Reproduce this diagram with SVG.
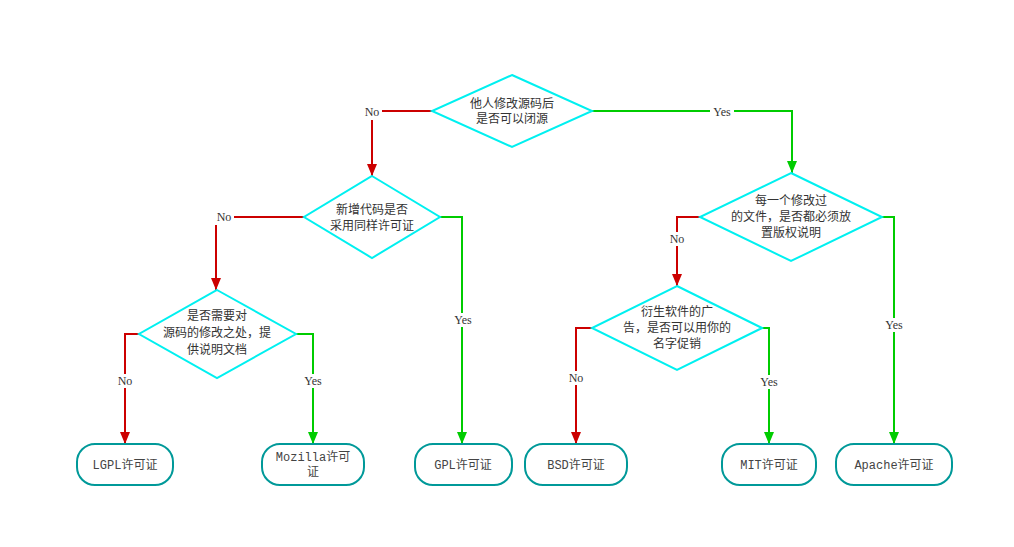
<svg xmlns="http://www.w3.org/2000/svg" width="1014" height="547" viewBox="0 0 1014 547">
<style>
.d{fill:#fff;stroke:#00f0f0;stroke-width:2}
.t{fill:#fff;stroke:#009999;stroke-width:2}
.dt{font-family:"Noto Sans CJK SC",sans-serif;font-size:12px;fill:#333;text-anchor:middle}
.tt{font-family:"Liberation Mono","Noto Sans CJK SC",monospace;font-size:12px;fill:#444;text-anchor:middle}
.r{fill:none;stroke:#cc0000;stroke-width:2}
.g{fill:none;stroke:#00cc00;stroke-width:2}
.lb{font-family:"Liberation Serif",serif;font-size:12px;fill:#333;text-anchor:middle}
.bg{fill:#fff}
</style>
<defs>
<marker id="ar" markerWidth="10" markerHeight="12" refX="5" refY="12" markerUnits="userSpaceOnUse" viewBox="0 0 10 12"><path d="M0,0 L10,0 L5,12 Z" fill="#cc0000"/></marker>
<marker id="ag" markerWidth="10" markerHeight="12" refX="5" refY="12" markerUnits="userSpaceOnUse" viewBox="0 0 10 12"><path d="M0,0 L10,0 L5,12 Z" fill="#00cc00"/></marker>
</defs>
<rect width="1014" height="547" fill="#fff"/>
<g id="connectors">
<path class="r" d="M432,111 H372 V176" marker-end="url(#ar)"/>
<path class="g" d="M592,111 H792 V173" marker-end="url(#ag)"/>
<path class="r" d="M304,217 H216 V290" marker-end="url(#ar)"/>
<path class="g" d="M440,217 H462 V444" marker-end="url(#ag)"/>
<path class="r" d="M700,217 H677 V286" marker-end="url(#ar)"/>
<path class="g" d="M882,217 H894 V444" marker-end="url(#ag)"/>
<path class="r" d="M139,334 H125 V444" marker-end="url(#ar)"/>
<path class="g" d="M296,334 H313 V444" marker-end="url(#ag)"/>
<path class="r" d="M592,328 H576 V444" marker-end="url(#ar)"/>
<path class="g" d="M762,328 H769 V444" marker-end="url(#ag)"/>
<rect class="bg" x="362" y="105" width="20" height="15"/><text class="lb" x="372" y="116">No</text>
<rect class="bg" x="710" y="105" width="24" height="14"/><text class="lb" x="722" y="116">Yes</text>
<rect class="bg" x="214" y="211" width="20" height="14"/><text class="lb" x="224" y="221">No</text>
<rect class="bg" x="451" y="313" width="24" height="14"/><text class="lb" x="463" y="324">Yes</text>
<rect class="bg" x="667" y="232" width="20" height="14"/><text class="lb" x="677" y="243">No</text>
<rect class="bg" x="882" y="318" width="24" height="14"/><text class="lb" x="894" y="329">Yes</text>
<rect class="bg" x="115" y="374" width="20" height="14"/><text class="lb" x="125" y="385">No</text>
<rect class="bg" x="301" y="374" width="24" height="14"/><text class="lb" x="313" y="385">Yes</text>
<rect class="bg" x="566" y="371" width="20" height="14"/><text class="lb" x="576" y="382">No</text>
<rect class="bg" x="757" y="375" width="24" height="14"/><text class="lb" x="769" y="386">Yes</text>
</g>
<g id="d1"><polygon class="d" points="512,75 592,111 512,147 432,111"/><text class="dt" x="512" y="108">他人修改源码后</text><text class="dt" x="512" y="123">是否可以闭源</text></g>
<g id="d2"><polygon class="d" points="372,176 440,217 372,258 304,217"/><text class="dt" x="372" y="214">新增代码是否</text><text class="dt" x="372" y="230">采用同样许可证</text></g>
<g id="d3"><polygon class="d" points="791,173 882,217 791,261 700,217"/><text class="dt" x="791" y="205">每一个修改过</text><text class="dt" x="791" y="221">的文件，是否都必须放</text><text class="dt" x="791" y="237">置版权说明</text></g>
<g id="d4"><polygon class="d" points="217,290 296,334 217,378 139,334"/><text class="dt" x="217" y="320">是否需要对</text><text class="dt" x="217" y="337">源码的修改之处，提</text><text class="dt" x="217" y="354">供说明文档</text></g>
<g id="d5"><polygon class="d" points="677,286 762,328 677,370 592,328"/><text class="dt" x="677" y="316">衍生软件的广</text><text class="dt" x="677" y="332">告，是否可以用你的</text><text class="dt" x="677" y="348">名字促销</text></g>
<g id="lgpl"><rect class="t" x="77" y="444" width="96" height="41" rx="18"/><text class="tt" x="125" y="469">LGPL许可证</text></g>
<g id="mozilla"><rect class="t" x="262" y="444" width="102" height="41" rx="18"/><text class="tt" x="313" y="461">Mozilla许可</text><text class="tt" x="313" y="476">证</text></g>
<g id="gpl"><rect class="t" x="415" y="444" width="97" height="41" rx="18"/><text class="tt" x="463" y="469">GPL许可证</text></g>
<g id="bsd"><rect class="t" x="525" y="444" width="102" height="41" rx="18"/><text class="tt" x="576" y="469">BSD许可证</text></g>
<g id="mit"><rect class="t" x="722" y="444" width="94" height="41" rx="18"/><text class="tt" x="769" y="469">MIT许可证</text></g>
<g id="apache"><rect class="t" x="836" y="444" width="116" height="41" rx="18"/><text class="tt" x="894" y="469">Apache许可证</text></g>
</svg>
